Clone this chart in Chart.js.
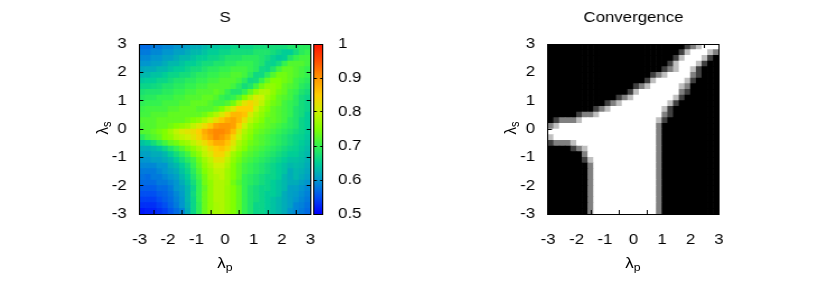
<!DOCTYPE html>
<html>
<head>
<meta charset="utf-8">
<title>S and Convergence</title>
<script src="https://cdn.jsdelivr.net/npm/chart.js@4"></script>
<style>
  html, body { margin: 0; padding: 0; background: #fff; }
  #page { position: relative; width: 817px; height: 286px; overflow: hidden; font-family: "Liberation Sans", sans-serif; }
  /* the original plot is stretched sideways, text included */
  .box { position: absolute; top: 0; height: 286px; transform: scaleX(1.12); transform-origin: 0 0; }
  .lab { position: absolute; font-size: 15px; line-height: 16px; color: #000; white-space: nowrap; transform: translate(-50%, -50%) scaleX(1.12); }
  .lab.rot { transform: translate(-50%, -50%) scaleX(1.12) rotate(-90deg); }
  .lab sub { font-size: 11px; line-height: 0; vertical-align: -3px; }
</style>
</head>
<body>
<div id="page">
  <div class="box" style="left:0;width:295px"><canvas id="sChart"></canvas></div>
  <div class="box" style="left:312px;width:54px"><canvas id="barChart"></canvas></div>
  <div class="box" style="left:500px;width:205px"><canvas id="convChart"></canvas></div>
  <div class="lab" style="left:225px;top:263px">λ<sub>p</sub></div>
  <div class="lab rot" style="left:102px;top:128px">λ<sub>s</sub></div>
  <div class="lab" style="left:633px;top:263px">λ<sub>p</sub></div>
  <div class="lab rot" style="left:510px;top:128px">λ<sub>s</sub></div>
</div>
<script>
// cell centers on the x axis, cell edges on the y axis (top row first)
const xCenters = [-2.9, -2.7, -2.5, -2.3, -2.1, -1.9, -1.7, -1.5, -1.3, -1.1, -0.9, -0.7, -0.5, -0.3, -0.1, 0.1, 0.3, 0.5, 0.7, 0.9, 1.1, 1.3, 1.5, 1.7, 1.9, 2.1, 2.3, 2.5, 2.7, 2.9];
const yEdges = [3, 2.8, 2.6, 2.4, 2.2, 2, 1.8, 1.6, 1.4, 1.2, 1, 0.8, 0.6, 0.4, 0.2, 0, -0.2, -0.4, -0.6, -0.8, -1, -1.2, -1.4, -1.6, -1.8, -2, -2.2, -2.4, -2.6, -2.8, -3];

// values
const sValues = [
  [.57, .57, .58, .58, .59, .59, .60, .60, .61, .62, .62, .63, .64, .64, .65, .65, .66, .66, .66, .66, .67, .67, .67, .67, .67, .67, .68, .68, .69, .69],
  [.58, .58, .59, .59, .60, .60, .61, .61, .62, .63, .63, .64, .65, .65, .66, .66, .67, .67, .67, .67, .68, .68, .68, .67, .66, .65, .65, .67, .69, .70],
  [.59, .59, .60, .60, .61, .61, .62, .63, .63, .64, .65, .65, .66, .66, .67, .68, .68, .68, .69, .69, .69, .68, .67, .655, .645, .65, .68, .70, .71, .71],
  [.60, .60, .61, .61, .62, .63, .63, .64, .65, .65, .66, .67, .67, .68, .68, .69, .69, .70, .70, .70, .69, .68, .66, .655, .67, .70, .72, .72, .72, .71],
  [.615, .62, .62, .63, .63, .64, .65, .65, .66, .67, .67, .68, .69, .69, .70, .70, .71, .71, .71, .70, .69, .665, .66, .68, .71, .73, .73, .72, .71, .70],
  [.63, .63, .64, .64, .65, .66, .66, .67, .67, .68, .69, .69, .70, .70, .71, .71, .72, .72, .71, .69, .665, .665, .69, .72, .74, .74, .73, .72, .71, .70],
  [.645, .65, .65, .66, .66, .67, .68, .68, .69, .69, .70, .70, .71, .71, .72, .72, .72, .71, .69, .665, .67, .70, .73, .75, .75, .74, .73, .71, .70, .69],
  [.66, .66, .665, .67, .68, .68, .69, .69, .70, .70, .71, .71, .72, .72, .72, .72, .71, .69, .67, .68, .71, .74, .76, .76, .75, .73, .72, .71, .69, .68],
  [.675, .68, .68, .68, .69, .69, .70, .70, .71, .71, .72, .72, .72, .73, .72, .70, .68, .68, .70, .73, .76, .78, .78, .76, .74, .73, .71, .70, .68, .67],
  [.685, .69, .69, .70, .70, .70, .71, .71, .72, .72, .72, .73, .73, .72, .70, .69, .70, .72, .75, .78, .81, .80, .77, .75, .73, .72, .71, .69, .67, .66],
  [.695, .70, .70, .70, .71, .71, .71, .72, .72, .73, .73, .73, .72, .71, .71, .72, .74, .78, .82, .84, .82, .79, .76, .74, .73, .71, .70, .69, .67, .66],
  [.705, .71, .71, .71, .71, .72, .72, .73, .73, .73, .72, .72, .72, .73, .75, .78, .81, .85, .85, .85, .80, .77, .75, .73, .72, .71, .70, .68, .67, .66],
  [.71, .71, .72, .72, .72, .73, .73, .73, .73, .73, .73, .74, .76, .78, .81, .84, .87, .87, .86, .81, .78, .76, .74, .73, .72, .71, .70, .68, .67, .65],
  [.72, .72, .72, .73, .73, .73, .73, .73, .74, .75, .76, .78, .80, .83, .86, .88, .89, .87, .83, .79, .77, .75, .73, .73, .72, .71, .69, .68, .66, .65],
  [.715, .72, .72, .73, .73, .74, .75, .76, .77, .79, .81, .83, .86, .89, .90, .90, .89, .85, .80, .77, .75, .74, .73, .72, .71, .70, .69, .68, .66, .65],
  [.72, .72, .73, .74, .75, .77, .79, .81, .82, .83, .85, .88, .90, .91, .91, .90, .87, .82, .78, .76, .74, .73, .72, .71, .70, .69, .68, .67, .66, .65],
  [.69, .71, .72, .73, .75, .76, .78, .79, .80, .82, .84, .87, .89, .91, .90, .88, .84, .80, .77, .75, .73, .72, .71, .70, .69, .68, .67, .66, .655, .645],
  [.64, .65, .67, .69, .71, .73, .74, .76, .77, .79, .81, .83, .86, .88, .88, .86, .82, .78, .76, .74, .73, .72, .71, .70, .69, .68, .67, .66, .65, .64],
  [.62, .62, .63, .64, .66, .68, .70, .72, .74, .76, .78, .80, .83, .85, .86, .84, .80, .77, .75, .73, .72, .71, .70, .69, .68, .67, .66, .655, .645, .635],
  [.61, .61, .62, .62, .63, .65, .67, .69, .71, .74, .76, .79, .81, .84, .84, .81, .77, .75, .73, .72, .71, .70, .69, .68, .67, .66, .65, .65, .64, .63],
  [.60, .60, .61, .61, .62, .63, .65, .67, .69, .71, .74, .77, .79, .82, .82, .79, .76, .74, .72, .71, .70, .69, .68, .67, .66, .65, .64, .64, .635, .625],
  [.59, .59, .59, .60, .60, .62, .63, .65, .67, .70, .73, .76, .78, .80, .80, .78, .75, .73, .71, .70, .69, .68, .67, .66, .65, .64, .63, .635, .63, .62],
  [.58, .58, .58, .59, .60, .61, .62, .64, .66, .69, .72, .75, .77, .79, .79, .77, .75, .73, .71, .70, .69, .68, .67, .66, .65, .64, .62, .63, .625, .615],
  [.575, .57, .58, .58, .59, .60, .61, .63, .65, .68, .71, .74, .77, .78, .79, .77, .75, .73, .70, .69, .68, .67, .66, .66, .65, .63, .62, .63, .62, .61],
  [.57, .57, .57, .58, .58, .59, .60, .62, .64, .67, .70, .74, .76, .78, .78, .77, .74, .72, .70, .69, .68, .67, .66, .65, .64, .63, .62, .62, .61, .60],
  [.56, .56, .56, .57, .57, .58, .60, .61, .63, .66, .70, .73, .76, .78, .78, .765, .75, .73, .70, .68, .67, .66, .66, .65, .64, .63, .61, .61, .60, .59],
  [.55, .55, .55, .56, .565, .575, .59, .605, .63, .665, .70, .735, .76, .78, .78, .765, .75, .73, .70, .68, .67, .66, .65, .65, .64, .62, .61, .605, .595, .585],
  [.54, .54, .54, .55, .56, .57, .585, .60, .63, .66, .70, .735, .76, .78, .78, .765, .75, .73, .70, .68, .67, .66, .65, .64, .63, .62, .61, .60, .59, .58],
  [.53, .53, .53, .54, .55, .565, .58, .60, .625, .66, .695, .735, .76, .775, .78, .765, .75, .73, .70, .68, .66, .66, .65, .64, .63, .62, .61, .59, .585, .575],
  [.515, .52, .52, .53, .54, .555, .57, .585, .62, .66, .695, .735, .76, .775, .78, .765, .75, .73, .70, .68, .66, .66, .65, .64, .63, .62, .60, .59, .58, .57]
];

// values, 0 is black and 1 is white
const convValues = [
  [0, 0, 0, 0, 0, 0, 0, 0, 0, 0, 0, 0, 0, 0, 0, 0, 0, 0, 0, 0, 0, 0, 0, 0, .25, .5, .75, 1, 1, 1],
  [0, 0, 0, 0, 0, 0, 0, 0, 0, 0, 0, 0, 0, 0, 0, 0, 0, 0, 0, 0, 0, 0, 0, .25, .75, 1, 1, 1, .75, .5],
  [0, 0, 0, 0, 0, 0, 0, 0, 0, 0, 0, 0, 0, 0, 0, 0, 0, 0, 0, 0, 0, 0, .25, .75, 1, 1, 1, .75, .25, 0],
  [0, 0, 0, 0, 0, 0, 0, 0, 0, 0, 0, 0, 0, 0, 0, 0, 0, 0, 0, 0, 0, .25, .75, 1, 1, 1, .75, .25, 0, 0],
  [0, 0, 0, 0, 0, 0, 0, 0, 0, 0, 0, 0, 0, 0, 0, 0, 0, 0, 0, 0, .25, .5, .75, 1, 1, .75, .25, 0, 0, 0],
  [0, 0, 0, 0, 0, 0, 0, 0, 0, 0, 0, 0, 0, 0, 0, 0, 0, 0, .25, .5, .75, 1, 1, 1, 1, .5, .25, 0, 0, 0],
  [0, 0, 0, 0, 0, 0, 0, 0, 0, 0, 0, 0, 0, 0, 0, 0, 0, .25, .75, 1, 1, 1, 1, 1, .75, .25, 0, 0, 0, 0],
  [0, 0, 0, 0, 0, 0, 0, 0, 0, 0, 0, 0, 0, 0, 0, .25, .5, .75, 1, 1, 1, 1, 1, .75, .5, 0, 0, 0, 0, 0],
  [0, 0, 0, 0, 0, 0, 0, 0, 0, 0, 0, 0, 0, 0, .25, .75, 1, 1, 1, 1, 1, 1, 1, .5, .25, 0, 0, 0, 0, 0],
  [0, 0, 0, 0, 0, 0, 0, 0, 0, 0, 0, 0, .25, .5, .75, 1, 1, 1, 1, 1, 1, 1, .75, .25, 0, 0, 0, 0, 0, 0],
  [0, 0, 0, 0, 0, 0, 0, 0, 0, 0, .25, .5, .75, 1, 1, 1, 1, 1, 1, 1, 1, .75, .25, 0, 0, 0, 0, 0, 0, 0],
  [0, 0, 0, 0, 0, 0, 0, 0, .25, .5, .75, 1, 1, 1, 1, 1, 1, 1, 1, 1, .75, .25, 0, 0, 0, 0, 0, 0, 0, 0],
  [0, 0, 0, 0, 0, .25, .5, .5, .75, 1, 1, 1, 1, 1, 1, 1, 1, 1, 1, 1, .5, .25, 0, 0, 0, 0, 0, 0, 0, 0],
  [0, .25, .5, .5, .5, .75, 1, 1, 1, 1, 1, 1, 1, 1, 1, 1, 1, 1, 1, .75, .25, 0, 0, 0, 0, 0, 0, 0, 0, 0],
  [.5, .75, 1, 1, 1, 1, 1, 1, 1, 1, 1, 1, 1, 1, 1, 1, 1, 1, 1, .5, 0, 0, 0, 0, 0, 0, 0, 0, 0, 0],
  [1, 1, 1, 1, 1, 1, 1, 1, 1, 1, 1, 1, 1, 1, 1, 1, 1, 1, 1, .5, 0, 0, 0, 0, 0, 0, 0, 0, 0, 0],
  [.75, 1, 1, 1, 1, 1, 1, 1, 1, 1, 1, 1, 1, 1, 1, 1, 1, 1, 1, .5, 0, 0, 0, 0, 0, 0, 0, 0, 0, 0],
  [.25, .5, .5, .5, .75, 1, 1, 1, 1, 1, 1, 1, 1, 1, 1, 1, 1, 1, 1, .5, 0, 0, 0, 0, 0, 0, 0, 0, 0, 0],
  [0, 0, 0, 0, .25, .5, .75, 1, 1, 1, 1, 1, 1, 1, 1, 1, 1, 1, 1, .5, 0, 0, 0, 0, 0, 0, 0, 0, 0, 0],
  [0, 0, 0, 0, 0, 0, .5, 1, 1, 1, 1, 1, 1, 1, 1, 1, 1, 1, 1, .5, 0, 0, 0, 0, 0, 0, 0, 0, 0, 0],
  [0, 0, 0, 0, 0, 0, .25, .75, 1, 1, 1, 1, 1, 1, 1, 1, 1, 1, 1, .5, 0, 0, 0, 0, 0, 0, 0, 0, 0, 0],
  [0, 0, 0, 0, 0, 0, 0, .5, 1, 1, 1, 1, 1, 1, 1, 1, 1, 1, 1, .5, 0, 0, 0, 0, 0, 0, 0, 0, 0, 0],
  [0, 0, 0, 0, 0, 0, 0, .5, 1, 1, 1, 1, 1, 1, 1, 1, 1, 1, 1, .5, 0, 0, 0, 0, 0, 0, 0, 0, 0, 0],
  [0, 0, 0, 0, 0, 0, 0, .5, 1, 1, 1, 1, 1, 1, 1, 1, 1, 1, 1, .5, 0, 0, 0, 0, 0, 0, 0, 0, 0, 0],
  [0, 0, 0, 0, 0, 0, 0, .5, 1, 1, 1, 1, 1, 1, 1, 1, 1, 1, 1, .5, 0, 0, 0, 0, 0, 0, 0, 0, 0, 0],
  [0, 0, 0, 0, 0, 0, 0, .5, 1, 1, 1, 1, 1, 1, 1, 1, 1, 1, 1, .5, 0, 0, 0, 0, 0, 0, 0, 0, 0, 0],
  [0, 0, 0, 0, 0, 0, 0, .5, 1, 1, 1, 1, 1, 1, 1, 1, 1, 1, 1, .5, 0, 0, 0, 0, 0, 0, 0, 0, 0, 0],
  [0, 0, 0, 0, 0, 0, 0, .5, 1, 1, 1, 1, 1, 1, 1, 1, 1, 1, 1, .5, 0, 0, 0, 0, 0, 0, 0, 0, 0, 0],
  [0, 0, 0, 0, 0, 0, 0, .5, 1, 1, 1, 1, 1, 1, 1, 1, 1, 1, 1, .5, 0, 0, 0, 0, 0, 0, 0, 0, 0, 0],
  [0, 0, 0, 0, 0, 0, 0, .5, 1, 1, 1, 1, 1, 1, 1, 1, 1, 1, 1, .5, 0, 0, 0, 0, 0, 0, 0, 0, 0, 0]
];

// colorbar range and the palette along it
const barRange = [0.5, 1];
const paletteStops = [
  [0, [0, 0, 255]], [0.1, [0, 79, 242]], [0.2, [0, 150, 206]], [0.3, [0, 206, 150]], [0.4, [51, 242, 79]],
  [0.5, [128, 255, 0]], [0.6, [204, 242, 0]], [0.7, [255, 206, 0]], [0.8, [255, 150, 0]], [0.9, [255, 79, 0]], [1, [255, 20, 0]]
];

// sideways stretch of the boxes, sizes below are screen pixels
const stretch = 1.12;

Chart.defaults.font.family = '"Liberation Sans", sans-serif';
Chart.defaults.font.size = 15;
Chart.defaults.color = "#000";

// palette lookup for a value on the colorbar
const paletteColor = (v) => {
  const t = Math.min(1, Math.max(0, (v - barRange[0]) / (barRange[1] - barRange[0])));
  let i = 0;
  while (i < paletteStops.length - 2 && t > paletteStops[i + 1][0]) i++;
  const [t0, c0] = paletteStops[i];
  const [t1, c1] = paletteStops[i + 1];
  const f = (t - t0) / (t1 - t0);
  return `rgb(${c0.map((c, k) => Math.round(c + (c1[k] - c) * f)).join(",")})`;
};

const grayColor = (v) => {
  const g = Math.round(v * 255);
  return `rgb(${g},${g},${g})`;
};

// the cells are floating bars on a linear x scale
const cellsDataset = (rows, colorFunc) => {
  const data = [];
  const colors = [];
  rows.forEach((row, r) => {
    row.forEach((v, c) => {
      data.push({ x: xCenters[c], y: [yEdges[r + 1], yEdges[r]] });
      colors.push(colorFunc(v));
    });
  });
  return {
    data: data,
    yAxisID: "yCells",
    backgroundColor: colors,
    borderWidth: 0,
    grouped: false,
    barPercentage: 1,
    categoryPercentage: 1,
  };
};

const axisBorder = { color: "#000", width: 1, z: 1 };

// sets the axis box size, the label overhang is left out of the layout
const fitAxis = (scale, axis, size) => {
  if (axis === "x") scale.height = size;
  else scale.width = size / stretch;
  scale.paddingLeft = 0;
  scale.paddingRight = 0;
  scale.paddingTop = 0;
  scale.paddingBottom = 0;
};

const axisFunc = (axis, position, size, labels) => {
  return {
    type: "linear",
    axis: axis,
    position: position,
    min: -3,
    max: 3,
    offset: false,
    // inward tick marks, drawn over the cells
    grid: { drawOnChartArea: false, tickLength: axis === "x" ? -4 : -3.5, color: "#000", z: 1 },
    border: axisBorder,
    ticks: { display: labels, stepSize: 1, padding: axis === "x" ? 21 : 15, maxRotation: 0, autoSkip: false },
    afterFit: (scale) => fitAxis(scale, axis, size),
  };
};

const heatmapFunc = (id, title, rows, colorFunc, leftSize, rightSize) => {
  new Chart(document.getElementById(id), {
    type: "bar",
    data: { datasets: [cellsDataset(rows, colorFunc)] },
    options: {
      responsive: true,
      maintainAspectRatio: false,
      animation: false,
      events: [],
      layout: { padding: 0 },
      plugins: {
        legend: { display: false },
        tooltip: { enabled: false },
        title: {
          display: true,
          text: title,
          fullSize: false,
          font: { size: 15, weight: "normal", lineHeight: "16px" },
          padding: { top: 10, bottom: 10 },
        },
      },
      scales: {
        x: axisFunc("x", "bottom", 72, true),
        y: axisFunc("y", "left", leftSize, true),
        xTop: axisFunc("x", "top", 8, false),
        yRight: axisFunc("y", "right", rightSize, false),
        // hidden y scale for the cells, a visible one nudges bars that touch zero
        yCells: { type: "linear", display: false, min: -3, max: 3 },
      },
    },
  });
};

heatmapFunc("sChart", "S", sValues, paletteColor, 139.5, 19.9);
heatmapFunc("convChart", "Convergence", convValues, grayColor, 48, 10.6);

// colorbar, one floating bar filled with the palette
const barFill = (ctx) => {
  const area = ctx.chart.chartArea;
  if (!area) return "#000";
  const grad = ctx.chart.ctx.createLinearGradient(0, area.bottom, 0, area.top);
  paletteStops.forEach(([t, c]) => grad.addColorStop(t, `rgb(${c.join(",")})`));
  return grad;
};

const barAxisFunc = (position, labels, size) => {
  return {
    type: "linear",
    position: position,
    min: barRange[0],
    max: barRange[1],
    grid: { drawOnChartArea: false, tickLength: -2.5, color: "#000", z: 1 },
    border: axisBorder,
    ticks: {
      display: labels,
      stepSize: 0.1,
      padding: 16,
      callback: (v) => String(+v.toFixed(1)),
    },
    afterFit: (scale) => fitAxis(scale, "y", size),
  };
};

new Chart(document.getElementById("barChart"), {
  type: "bar",
  data: {
    labels: ["S"],
    datasets: [{ data: [barRange], backgroundColor: barFill, borderWidth: 0, barPercentage: 1, categoryPercentage: 1 }],
  },
  options: {
    responsive: true,
    maintainAspectRatio: false,
    animation: false,
    events: [],
    layout: { padding: 0 },
    plugins: { legend: { display: false }, tooltip: { enabled: false }, title: { display: false } },
    scales: {
      x: {
        position: "bottom",
        grid: { display: false },
        border: axisBorder,
        ticks: { display: false },
        afterFit: (scale) => fitAxis(scale, "x", 72),
      },
      xTop: {
        type: "category",
        axis: "x",
        position: "top",
        grid: { display: false },
        border: axisBorder,
        ticks: { display: false },
        afterFit: (scale) => fitAxis(scale, "x", 44),
      },
      y: barAxisFunc("left", false, 2),
      yRight: barAxisFunc("right", true, 49.5),
    },
  },
});
</script>
</body>
</html>
